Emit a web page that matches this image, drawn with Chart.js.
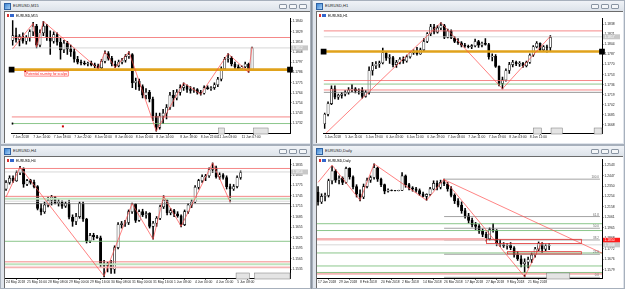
<!DOCTYPE html>
<html><head><meta charset="utf-8">
<script src="https://cdn.jsdelivr.net/npm/chart.js@4.4.0/dist/chart.umd.min.js"></script>
<style>
body{margin:0;width:625px;height:289px;overflow:hidden;background:#8a929c;position:relative;font-family:"Liberation Sans",Arial,sans-serif}
.win{position:absolute;background:#dfe4eb;box-sizing:border-box;border:1px solid #a7b0bc}
.tbar{position:absolute;left:0;top:0;right:0;height:10px;background:linear-gradient(#f0f3f7,#dde3ea)}
.ico{position:absolute;left:3px;top:2px;width:5px;height:5px;background:linear-gradient(135deg,#3d86d6,#a8d0f3);border:1px solid #2f62a3}
.ttl{position:absolute;left:12px;top:2px;font-size:4px;color:#222;line-height:6px;white-space:nowrap}
.btn{position:absolute;top:3px;width:8px;height:5px;box-sizing:border-box;border:1px solid #8a95a3;background:#f4f6f8;border-radius:1px}
.client{position:absolute;background:#fff;border-left:1px solid #6b6b6b;border-top:1px solid #6b6b6b;box-sizing:border-box}
canvas{position:absolute}
.hdr{position:absolute;font-size:3.4px;color:#000;white-space:nowrap;line-height:4px}
.flag{position:absolute;width:7px;height:3px;background:linear-gradient(90deg,#d33 0 33%,#fff 33% 50%,#36c 50%)}
</style>
</head><body>

<div class="win" style="left:0;top:0;width:311px;height:145px">
 <div class="tbar"><div class="ico"></div><div class="ttl">EURUSD,M15</div>
 <div class="btn" style="left:278px"></div><div class="btn" style="left:288px"></div><div class="btn" style="left:298px"></div></div>
 <div class="client" style="left:3px;top:10px;width:306px;height:132px"></div>
</div>
<div class="win" style="left:312px;top:0;width:313px;height:145px">
 <div class="tbar"><div class="ico"></div><div class="ttl">EURUSD,H1</div>
 <div class="btn" style="left:278px"></div><div class="btn" style="left:288px"></div><div class="btn" style="left:298px"></div></div>
 <div class="client" style="left:3px;top:10px;width:307px;height:132px"></div>
</div>
<div class="win" style="left:0;top:145px;width:311px;height:144px">
 <div class="tbar"><div class="ico"></div><div class="ttl">EURUSD,H4</div>
 <div class="btn" style="left:278px"></div><div class="btn" style="left:288px"></div><div class="btn" style="left:298px"></div></div>
 <div class="client" style="left:3px;top:10px;width:306px;height:132px"></div>
</div>
<div class="win" style="left:312px;top:145px;width:313px;height:144px">
 <div class="tbar"><div class="ico"></div><div class="ttl">EURUSD,Daily</div>
 <div class="btn" style="left:278px"></div><div class="btn" style="left:288px"></div><div class="btn" style="left:298px"></div></div>
 <div class="client" style="left:3px;top:10px;width:307px;height:132px"></div>
</div>

<canvas id="c0" width="305" height="131" style="left:5px;top:12px"></canvas>
<canvas id="c1" width="305" height="131" style="left:317px;top:12px"></canvas>
<canvas id="c2" width="305" height="131" style="left:5px;top:157px"></canvas>
<canvas id="c3" width="305" height="131" style="left:317px;top:157px"></canvas>

<div class="flag" style="left:7px;top:14px"></div><div class="hdr" style="left:16px;top:13.5px">EURUSD,M15</div>
<div class="flag" style="left:319px;top:14px"></div><div class="hdr" style="left:328px;top:13.5px">EURUSD,H1</div>
<div class="flag" style="left:7px;top:159px"></div><div class="hdr" style="left:16px;top:158.5px">EURUSD,H4</div>
<div class="flag" style="left:319px;top:159px"></div><div class="hdr" style="left:328px;top:158.5px">EURUSD,Daily</div>

<script>
// ---------------- DATA ----------------
// M15 candles [open, high, low, close]
const m15Candles = [
[1.1820,1.1841,1.1815,1.1825],[1.1825,1.1833,1.1818,1.1821],[1.1821,1.1826,1.1814,1.1824],[1.1824,1.1828,1.1817,1.1819],
[1.1819,1.1825,1.1816,1.1823],[1.1823,1.1831,1.1819,1.1829],[1.1829,1.1839,1.1825,1.1835],[1.1835,1.1837,1.1812,1.1815],
[1.1815,1.1831,1.1813,1.1828],[1.1828,1.1840,1.1825,1.1835],[1.1835,1.1837,1.1820,1.1823],[1.1823,1.1830,1.1805,1.1819],
[1.1819,1.1829,1.1817,1.1826],[1.1826,1.1828,1.1815,1.1818],[1.1818,1.1822,1.1800,1.1810],[1.1810,1.1820,1.1807,1.1817],
[1.1817,1.1819,1.1805,1.1811],[1.1811,1.1815,1.1803,1.1808],[1.1808,1.1811,1.1797,1.1800],[1.1800,1.1803,1.1795,1.1797],
[1.1797,1.1799,1.1794,1.1796],[1.1796,1.1798,1.1794,1.1795],[1.1795,1.1797,1.1793,1.1796],[1.1796,1.1798,1.1793,1.1794],
[1.1794,1.1796,1.1791,1.1793],[1.1793,1.1795,1.1789,1.1791],[1.1791,1.1800,1.1790,1.1798],[1.1798,1.1809,1.1796,1.1806],
[1.1806,1.1808,1.1799,1.1801],[1.1801,1.1803,1.1793,1.1795],[1.1795,1.1798,1.1791,1.1793],[1.1793,1.1799,1.1792,1.1797],
[1.1797,1.1801,1.1795,1.1799],[1.1799,1.1805,1.1797,1.1803],[1.1803,1.1808,1.1801,1.1805],[1.1805,1.1806,1.1770,1.1775],
[1.1775,1.1780,1.1768,1.1777],[1.1777,1.1779,1.1767,1.1771],[1.1771,1.1773,1.1759,1.1762],[1.1762,1.1769,1.1758,1.1765],
[1.1765,1.1767,1.1755,1.1758],[1.1758,1.1760,1.1735,1.1740],[1.1740,1.1743,1.1724,1.1728],[1.1728,1.1743,1.1726,1.1740],
[1.1740,1.1747,1.1732,1.1743],[1.1743,1.1752,1.1737,1.1749],[1.1749,1.1765,1.1747,1.1762],[1.1762,1.1767,1.1750,1.1759],
[1.1759,1.1768,1.1757,1.1765],[1.1765,1.1773,1.1762,1.1770],[1.1770,1.1775,1.1767,1.1772],[1.1772,1.1773,1.1765,1.1768],
[1.1768,1.1771,1.1764,1.1767],[1.1767,1.1770,1.1765,1.1768],[1.1768,1.1769,1.1763,1.1765],[1.1765,1.1767,1.1762,1.1764],
[1.1764,1.1772,1.1763,1.1770],[1.1770,1.1772,1.1768,1.1769],[1.1769,1.1771,1.1767,1.1770],[1.1770,1.1775,1.1768,1.1773],
[1.1773,1.1781,1.1771,1.1779],[1.1779,1.1792,1.1777,1.1790],[1.1790,1.1802,1.1788,1.1800],[1.1800,1.1806,1.1797,1.1801],
[1.1801,1.1803,1.1793,1.1795],[1.1795,1.1797,1.1790,1.1792],[1.1792,1.1794,1.1789,1.1790],[1.1790,1.1793,1.1789,1.1792],
[1.1792,1.1797,1.1791,1.1795],[1.1795,1.1796,1.1786,1.1789],[1.1789,1.1813,1.1788,1.1812]];
const m15YTicks = [1.1840,1.1829,1.1818,1.1808,1.1797,1.1786,1.1775,1.1764,1.1754,1.1743,1.1732];
const m15XLabels = ['7 Jun 2018','7 Jun 14:00','7 Jun 18:00','7 Jun 22:00','8 Jun 02:00','8 Jun 06:00','8 Jun 10:00','8 Jun 14:00','8 Jun 18:00','8 Jun 22:00','11 Jun 03:00','11 Jun 07:00'];
const m15XLabelAt = [0,6,12,18,24,30,36,42,49,55,60,67];
const m15Zigzag = [[0,1.1811],[6,1.1838],[7,1.1813],[9,1.1840],[25,1.1790],[27,1.1808],[30,1.1791],[34,1.1808],[42,1.1724],[50,1.1775],[55,1.1763],[63,1.1806],[69,1.1786],[70,1.1813]];
const m15Levels = [1.1823,1.1812,1.1789,1.1739,1.1732];
const m15Price = 1.1812;

// H1
const h1Candles = [
[1.1670,1.1688,1.1662,1.1686],[1.1686,1.1707,1.1683,1.1704],[1.1704,1.1734,1.1702,1.1729],[1.1729,1.1734,1.1712,1.1715],
[1.1715,1.1720,1.1711,1.1718],[1.1718,1.1723,1.1713,1.1720],[1.1720,1.1726,1.1717,1.1723],[1.1723,1.1731,1.1720,1.1727],
[1.1727,1.1736,1.1724,1.1729],[1.1729,1.1731,1.1722,1.1726],[1.1726,1.1729,1.1720,1.1727],[1.1727,1.1731,1.1713,1.1716],
[1.1716,1.1726,1.1715,1.1723],[1.1723,1.1766,1.1720,1.1760],[1.1760,1.1774,1.1752,1.1768],[1.1768,1.1775,1.1763,1.1771],
[1.1771,1.1776,1.1765,1.1773],[1.1773,1.1798,1.1771,1.1790],[1.1790,1.1792,1.1777,1.1781],[1.1781,1.1787,1.1772,1.1782],
[1.1782,1.1784,1.1766,1.1770],[1.1770,1.1777,1.1765,1.1774],[1.1774,1.1782,1.1771,1.1779],[1.1779,1.1783,1.1772,1.1776],
[1.1776,1.1786,1.1774,1.1783],[1.1783,1.1792,1.1781,1.1790],[1.1790,1.1795,1.1787,1.1792],[1.1792,1.1799,1.1786,1.1788],
[1.1788,1.1798,1.1787,1.1795],[1.1795,1.1814,1.1792,1.1809],[1.1809,1.1824,1.1807,1.1822],[1.1822,1.1838,1.1819,1.1834],
[1.1834,1.1838,1.1822,1.1825],[1.1825,1.1836,1.1823,1.1832],[1.1832,1.1841,1.1829,1.1836],[1.1836,1.1838,1.1814,1.1816],
[1.1816,1.1830,1.1815,1.1827],[1.1827,1.1829,1.1814,1.1815],[1.1815,1.1818,1.1807,1.1809],[1.1809,1.1814,1.1804,1.1807],
[1.1807,1.1809,1.1800,1.1803],[1.1803,1.1806,1.1799,1.1801],[1.1801,1.1803,1.1798,1.1800],[1.1800,1.1804,1.1797,1.1802],
[1.1802,1.1813,1.1800,1.1809],[1.1809,1.1811,1.1799,1.1803],[1.1803,1.1808,1.1800,1.1806],[1.1806,1.1814,1.1803,1.1804],
[1.1804,1.1806,1.1779,1.1783],[1.1783,1.1788,1.1776,1.1784],[1.1784,1.1787,1.1765,1.1767],[1.1767,1.1768,1.1734,1.1738],
[1.1738,1.1749,1.1729,1.1744],[1.1744,1.1763,1.1742,1.1760],[1.1760,1.1774,1.1755,1.1770],[1.1770,1.1777,1.1766,1.1774],
[1.1774,1.1776,1.1768,1.1771],[1.1771,1.1775,1.1767,1.1772],[1.1772,1.1774,1.1765,1.1768],[1.1768,1.1776,1.1766,1.1774],
[1.1774,1.1788,1.1772,1.1786],[1.1786,1.1802,1.1784,1.1800],[1.1800,1.1809,1.1798,1.1806],[1.1806,1.1807,1.1792,1.1795],
[1.1795,1.1802,1.1793,1.1800],[1.1800,1.1803,1.1791,1.1799],[1.1799,1.1819,1.1792,1.1816]];
const h1YTicks = [1.1838,1.1821,1.1804,1.1787,1.1770,1.1753,1.1736,1.1719,1.1702,1.1685,1.1668];
const h1XLabels = ['5 Jun 2018','5 Jun 11:00','5 Jun 19:00','6 Jun 03:00','6 Jun 11:00','6 Jun 19:00','7 Jun 03:00','7 Jun 11:00','7 Jun 19:00','8 Jun 03:00','8 Jun 11:00'];
const h1XLabelAt = [0,6,12,18,24,30,36,42,48,54,60];
const h1Zigzag = [[-0.3,1.1650],[34,1.1841],[52,1.1729],[66,1.1818]];
const h1Levels = [1.1827,1.1817,1.1792,1.1743,1.1737,1.1727,1.1723];
const h1Price = 1.1817;

// H4
const h4Candles = [
[1.1765,1.1789,1.1761,1.1784],[1.1784,1.1803,1.1779,1.1796],[1.1796,1.1803,1.1784,1.1789],[1.1789,1.1817,1.1787,1.1812],
[1.1812,1.1830,1.1806,1.1824],[1.1824,1.1826,1.1770,1.1779],[1.1779,1.1793,1.1775,1.1789],[1.1789,1.1793,1.1779,1.1784],
[1.1784,1.1791,1.1768,1.1772],[1.1772,1.1775,1.1705,1.1709],[1.1709,1.1723,1.1691,1.1700],[1.1700,1.1728,1.1695,1.1719],
[1.1719,1.1742,1.1714,1.1733],[1.1733,1.1747,1.1719,1.1742],[1.1742,1.1744,1.1722,1.1725],[1.1725,1.1735,1.1716,1.1728],
[1.1728,1.1731,1.1709,1.1716],[1.1716,1.1728,1.1712,1.1723],[1.1723,1.1733,1.1679,1.1684],[1.1684,1.1691,1.1658,1.1672],
[1.1672,1.1695,1.1663,1.1686],[1.1686,1.1728,1.1681,1.1723],[1.1723,1.1728,1.1672,1.1679],[1.1679,1.1681,1.1610,1.1616],
[1.1616,1.1638,1.1611,1.1632],[1.1632,1.1638,1.1619,1.1628],[1.1628,1.1632,1.1623,1.1625],[1.1625,1.1630,1.1541,1.1551],
[1.1551,1.1560,1.1513,1.1546],[1.1546,1.1555,1.1527,1.1551],[1.1551,1.1560,1.1523,1.1535],[1.1535,1.1602,1.1523,1.1597],
[1.1597,1.1669,1.1593,1.1663],[1.1663,1.1672,1.1653,1.1666],[1.1666,1.1675,1.1658,1.1669],[1.1669,1.1705,1.1663,1.1700],
[1.1700,1.1725,1.1695,1.1722],[1.1722,1.1723,1.1669,1.1675],[1.1675,1.1705,1.1672,1.1700],[1.1700,1.1707,1.1686,1.1691],
[1.1691,1.1700,1.1681,1.1695],[1.1695,1.1697,1.1653,1.1658],[1.1658,1.1672,1.1621,1.1667],[1.1667,1.1686,1.1658,1.1681],
[1.1681,1.1719,1.1677,1.1714],[1.1714,1.1746,1.1709,1.1733],[1.1733,1.1735,1.1691,1.1697],[1.1697,1.1709,1.1691,1.1703],
[1.1703,1.1707,1.1686,1.1694],[1.1694,1.1700,1.1684,1.1688],[1.1688,1.1691,1.1656,1.1663],[1.1663,1.1705,1.1660,1.1700],
[1.1700,1.1723,1.1695,1.1719],[1.1719,1.1735,1.1712,1.1728],[1.1728,1.1775,1.1725,1.1770],[1.1770,1.1793,1.1765,1.1789],
[1.1789,1.1806,1.1784,1.1800],[1.1800,1.1807,1.1789,1.1803],[1.1803,1.1826,1.1798,1.1821],[1.1821,1.1840,1.1812,1.1826],
[1.1826,1.1831,1.1796,1.1800],[1.1800,1.1812,1.1793,1.1806],[1.1806,1.1809,1.1793,1.1798],[1.1798,1.1803,1.1765,1.1772],
[1.1772,1.1779,1.1728,1.1765],[1.1765,1.1778,1.1761,1.1772],[1.1772,1.1803,1.1768,1.1798],[1.1798,1.1817,1.1793,1.1812]];
const h4YTicks = [1.1835,1.1805,1.1775,1.1745,1.1715,1.1685,1.1655,1.1625,1.1595,1.1565,1.1535];
const h4XLabels = ['24 May 2018','25 May 16:00','28 May 08:00','29 May 00:00','29 May 16:00','30 May 08:00','31 May 00:00','31 May 16:00','1 Jun 08:00','4 Jun 00:00','4 Jun 16:00','5 Jun 08:00'];
const h4XLabelAt = [0,6,12,18,24,30,36,42,48,54,60,66];
const h4Zigzag = [[0,1.1742],[4,1.1828],[28,1.1515],[36,1.1723],[42,1.1621],[45,1.1744],[50,1.1658],[59,1.1840],[64,1.1728]];
const h4Levels = [1.1824,1.1814,1.1744,1.1737,1.1730,1.1723,1.1615,1.1556,1.1549,1.1540];
const h4Price = 1.1814;

// Daily
const d1Candles = [
[1.2294,1.2345,1.2174,1.2204],[1.2204,1.2279,1.2189,1.2255],[1.2255,1.2285,1.2213,1.2264],[1.2264,1.2414,1.2249,1.2399],
[1.2399,1.2534,1.2369,1.2489],[1.2489,1.2504,1.2384,1.2405],[1.2405,1.2444,1.2369,1.2423],[1.2423,1.2435,1.2363,1.2384],
[1.2384,1.2525,1.2375,1.2513],[1.2513,1.2519,1.2414,1.2435],[1.2435,1.2444,1.2324,1.2345],[1.2345,1.2363,1.2249,1.2279],
[1.2279,1.2315,1.2213,1.2249],[1.2249,1.2369,1.2234,1.2345],[1.2345,1.2423,1.2333,1.2405],[1.2405,1.2444,1.2384,1.2429],
[1.2429,1.2555,1.2414,1.2519],[1.2519,1.2525,1.2393,1.2414],[1.2414,1.2423,1.2345,1.2363],[1.2363,1.2369,1.2279,1.2303],
[1.2303,1.2324,1.2294,1.2312],[1.2312,1.2315,1.2306,1.2309],[1.2309,1.2312,1.2306,1.2308],[1.2308,1.2312,1.2306,1.2311],
[1.2311,1.2474,1.2309,1.2444],[1.2444,1.2453,1.2339,1.2363],[1.2363,1.2375,1.2315,1.2333],[1.2333,1.2345,1.2303,1.2324],
[1.2324,1.2339,1.2294,1.2309],[1.2309,1.2324,1.2264,1.2279],[1.2279,1.2294,1.2249,1.2255],[1.2255,1.2279,1.2219,1.2273],
[1.2273,1.2339,1.2264,1.2324],[1.2324,1.2399,1.2315,1.2375],[1.2375,1.2399,1.2315,1.2339],[1.2339,1.2405,1.2324,1.2384],
[1.2384,1.2414,1.2354,1.2369],[1.2369,1.2384,1.2303,1.2324],[1.2324,1.2345,1.2249,1.2264],[1.2264,1.2279,1.2189,1.2213],
[1.2213,1.2234,1.2159,1.2174],[1.2174,1.2204,1.2099,1.2123],[1.2123,1.2144,1.2054,1.2075],[1.2075,1.2099,1.2009,1.2033],
[1.2033,1.2054,1.1973,1.1994],[1.1994,1.2015,1.1949,1.1979],[1.1979,1.1994,1.1913,1.1934],[1.1934,1.1955,1.1883,1.1904],
[1.1904,1.1925,1.1844,1.1865],[1.1865,1.1964,1.1853,1.1949],[1.1949,1.2003,1.1925,1.1943],[1.1943,1.1949,1.1799,1.1823],
[1.1823,1.1853,1.1793,1.1811],[1.1811,1.1829,1.1784,1.1799],[1.1799,1.1823,1.1769,1.1805],[1.1805,1.1829,1.1763,1.1781],
[1.1781,1.1793,1.1694,1.1715],[1.1715,1.1745,1.1664,1.1679],[1.1679,1.1709,1.1604,1.1634],[1.1634,1.1679,1.1511,1.1649],
[1.1649,1.1694,1.1595,1.1673],[1.1673,1.1733,1.1643,1.1715],[1.1715,1.1784,1.1694,1.1769],[1.1769,1.1835,1.1754,1.1823],
[1.1823,1.1829,1.1739,1.1769],[1.1769,1.1814,1.1754,1.1799],[1.1799,1.1823,1.1763,1.1805]];
const d1YTicks = [1.2543,1.2447,1.2350,1.2254,1.2158,1.2061,1.1965,1.1868,1.1772,1.1676,1.1579];
const d1XLabels = ['17 Jan 2018','29 Jan 2018','8 Feb 2018','20 Feb 2018','2 Mar 2018','14 Mar 2018','26 Mar 2018','17 Apr 2018','27 Apr 2018','9 May 2018','21 May 2018'];
const d1XLabelAt = [0,6,12,18,24,30,36,42,48,54,60];
const d1Zigzag = [[0,1.2384],[4,1.2543],[12,1.2219],[16,1.2555],[31,1.2219],[36,1.2414],[59,1.1514],[64,1.1835]];
const d1Levels = [1.2003,1.1940,1.1859,1.1808,1.1733,1.1613,1.1553,1.1541];
const d1Fib = [1.2414,1.2069,1.1961,1.1853,1.1721,1.1508];
const d1FibNames = ['100.0','61.8','50.0','38.2','23.6','0.0'];
const d1Trend = [[35.7,1.2414],[87.6,1.1634]];
const d1Boxes = [[48.1,75.2,1.1859,1.1820],[54.1,75.2,1.1745,1.1724]];
const d1Price = 1.1808;
const d1Tag = 1.1850;

// ---------------- STYLE / RENDER ----------------
const RED='#f36a6a', GRN='#6db86d', ORG='#e0a21b', LGR='#cdcdcd', DGR='#7d7d7d', PINK='#f6b3b3', LGN='#bfe3bf';
const FONT = {family:'Liberation Sans', size:3.3};

function extrasPlugin(P){
  return {id:'extras', afterDatasetsDraw(chart){
    const c = chart.ctx, xs = chart.scales.x, ys = chart.scales.y, a = chart.chartArea;
    c.save();
    c.beginPath(); c.rect(a.left,a.top,a.right-a.left,a.bottom-a.top); c.clip();
    (P.rects||[]).forEach(r=>{
      const x1=xs.getPixelForValue(r[0]), x2=xs.getPixelForValue(r[1]);
      const y1=ys.getPixelForValue(r[2]), y2=ys.getPixelForValue(r[3]);
      c.strokeStyle='#e03030'; c.lineWidth=0.8; c.strokeRect(x1,y1,x2-x1,y2-y1);
    });
    (P.fibNames||[]).forEach((t,k)=>{
      c.font='3px "Liberation Sans"'; c.fillStyle='#666'; c.textAlign='right'; c.textBaseline='bottom';
      c.fillText(t, xs.getPixelForValue(P.fibTo)-1, ys.getPixelForValue(P.fib[k])-0.3);
    });
    (P.notes||[]).forEach(n=>{
      const x=xs.getPixelForValue(n.x), y=ys.getPixelForValue(n.y);
      c.font='3.4px "Liberation Sans"'; const w=c.measureText(n.text).width;
      c.fillStyle='#fff'; c.fillRect(x,y,w+2,5);
      c.strokeStyle='#ff3030'; c.lineWidth=0.6; c.strokeRect(x,y,w+2,5);
      c.fillStyle='#ff2020'; c.textAlign='left'; c.textBaseline='middle'; c.fillText(n.text,x+1,y+2.6);
      c.fillStyle='#c00'; c.fillRect(x-0.5,y-0.5,1.5,1.5);
    });
    (P.dots||[]).forEach(d=>{
      c.fillStyle=d[2]; c.fillRect(xs.getPixelForValue(d[0])-1,ys.getPixelForValue(d[1])-1,2,2);
    });
    c.restore(); c.save();
    (P.gboxes||[]).forEach(b=>{
      const x1=xs.getPixelForValue(b[0]), x2=xs.getPixelForValue(b[1]);
      c.fillStyle='#e4e4e4'; c.fillRect(x1,a.bottom-5,x2-x1,6);
      c.strokeStyle='#777'; c.lineWidth=0.5; c.strokeRect(x1,a.bottom-5,x2-x1,6);
    });
    (P.tags||[]).forEach(t=>{
      const y=ys.getPixelForValue(t.v);
      c.fillStyle=t.bg; c.fillRect(a.right+1,y-2.5,17,5);
      c.fillStyle=t.fg; c.font='3.3px "Liberation Sans"'; c.textAlign='left'; c.textBaseline='middle';
      c.fillText(t.v.toFixed(4),a.right+2.5,y+0.2);
    });
    c.restore();
  }};
}

function panel(id, P){
  const wick = P.candles.map((k,i)=>({x:i,y:[k[2],k[1]]}));
  const body = P.candles.map((k,i)=>({x:i,y:[k[0], k[3]===k[0]? k[3]+0.00002 : k[3]]}));
  const fills = P.candles.map(k=> k[3]>=k[0] ? '#ffffff' : '#000000');
  const ds = [
    {type:'bar', data:wick, backgroundColor:'#000', barThickness:0.9, grouped:false, order:6},
    {type:'bar', data:body, backgroundColor:fills, borderColor:'#000', borderWidth:0.6, borderSkipped:false, barThickness:2.3, grouped:false, order:5}
  ];
  P.levels.forEach((v,k)=>{
    const s = P.levelStyle[k];
    const ends = s.marks ? 2.2 : 0;
    ds.push({type:'line', data:[{x:s.from!==undefined?s.from:P.xMin,y:v},{x:s.to!==undefined?s.to:P.xMax,y:v}],
      borderColor:s.c, borderWidth:s.w, pointRadius:ends, pointStyle:'rect', pointBackgroundColor:'#000', pointBorderColor:'#000',
      order:3, clip: s.marks?false:undefined});
  });
  (P.lines||[]).forEach(L=>{
    ds.push({type:'line', data:L.pts.map(p=>({x:p[0],y:p[1]})), borderColor:L.c, borderWidth:L.w, pointRadius:0, order:2});
  });
  ds.push({type:'line', data:P.zig.map(p=>({x:p[0],y:p[1]})), borderColor:'#ff4a4a', borderWidth:0.7, pointRadius:0, order:1});
  new Chart(document.getElementById(id), {
    type:'bar',
    data:{datasets:ds},
    options:{
      responsive:false, animation:false, events:[], devicePixelRatio:1,
      layout:{padding:0},
      plugins:{legend:{display:false}, tooltip:{enabled:false}},
      scales:{
        x:{type:'linear', min:P.xMin, max:P.xMax, offset:false,
          grid:{drawOnChartArea:false, drawTicks:true, tickLength:2, color:'#000', lineWidth:0.6},
          border:{display:true, color:'#000', width:1},
          ticks:{autoSkip:false, maxRotation:0, minRotation:0, align:'start', padding:0, color:'#222', font:FONT,
            callback:(v,i)=>P.xLabels[i]},
          afterBuildTicks:ax=>{ax.ticks=P.xAt.map(v=>({value:v}));},
          afterFit:ax=>{ax.height=10;}
        },
        y:{type:'linear', position:'right', min:P.yMin, max:P.yMax,
          grid:{drawOnChartArea:false, drawTicks:true, tickLength:1.5, color:'#000', lineWidth:0.6},
          border:{display:true, color:'#000', width:1},
          ticks:{padding:1, color:'#222', font:FONT, callback:v=>v.toFixed(4)},
          afterBuildTicks:ax=>{ax.ticks=P.yTicks.map(v=>({value:v}));},
          afterFit:ax=>{ax.width=20;}
        }
      }
    },
    plugins:[extrasPlugin(P)]
  });
}

const XMIN=-0.3, XMAX=81.1;

panel('c0',{candles:m15Candles, yTicks:m15YTicks, xLabels:m15XLabels, xAt:m15XLabelAt, zig:m15Zigzag,
  levels:m15Levels, levelStyle:[{c:RED,w:0.8},{c:LGR,w:0.8},{c:ORG,w:2.6,marks:true},{c:RED,w:0.8},{c:GRN,w:0.8}],
  xMin:XMIN, xMax:XMAX, yMin:1.1722, yMax:1.1843,
  notes:[{x:3.6,y:1.17875,text:'Potential re-entry for scalps'}],
  dots:[[14.7,1.1729,'#c00'],[-0.1,1.1732,'#000']],
  gboxes:[[60.2,61.9],[70.5,74.7]],
  tags:[{v:m15Price,bg:'#c8c8c8',fg:'#fff'}]});

panel('c1',{candles:h1Candles, yTicks:h1YTicks, xLabels:h1XLabels, xAt:h1XLabelAt, zig:h1Zigzag,
  levels:h1Levels, levelStyle:[{c:RED,w:0.8},{c:LGR,w:0.8},{c:ORG,w:2.6,marks:true},{c:RED,w:0.8},{c:GRN,w:0.8},{c:RED,w:0.8},{c:DGR,w:0.8}],
  xMin:XMIN, xMax:XMAX, yMin:1.16542, yMax:1.18478,
  gboxes:[[61,63.4],[66.2,69.5],[78.8,81.1]],
  tags:[{v:h1Price,bg:'#c8c8c8',fg:'#fff'}]});

panel('c2',{candles:h4Candles, yTicks:h4YTicks, xLabels:h4XLabels, xAt:h4XLabelAt, zig:h4Zigzag,
  levels:h4Levels, levelStyle:[{c:RED,w:0.8},{c:LGR,w:0.8},{c:RED,w:0.8},{c:LGN,w:2},{c:LGR,w:0.8},{c:DGR,w:0.8},{c:GRN,w:0.8},{c:RED,w:0.8},{c:LGN,w:2},{c:PINK,w:1.6}],
  xMin:XMIN, xMax:XMAX, yMin:1.15096, yMax:1.18484,
  gboxes:[[65.7,69.5],[71,81.1]],
  tags:[{v:h4Price,bg:'#c8c8c8',fg:'#fff'}]});

panel('c3',{candles:d1Candles, yTicks:d1YTicks, xLabels:d1XLabels, xAt:d1XLabelAt, zig:d1Zigzag,
  levels:[...d1Levels, ...d1Fib],
  levelStyle:[{c:GRN,w:0.8},{c:GRN,w:0.8},{c:PINK,w:2.4,to:48.1},{c:LGR,w:0.8},{c:GRN,w:0.8},{c:GRN,w:0.8},{c:GRN,w:0.8},{c:PINK,w:2},
    {c:DGR,w:0.7,from:36,to:80.5},{c:DGR,w:0.7,from:36,to:80.5},{c:DGR,w:0.7,from:36,to:80.5},{c:DGR,w:0.7,from:36,to:80.5},{c:DGR,w:0.7,from:36,to:80.5},{c:DGR,w:0.7,from:36,to:80.5}],
  lines:[{pts:d1Trend, c:'#ff5050', w:0.7}],
  fib:d1Fib, fibNames:d1FibNames, fibTo:80.5,
  rects:d1Boxes,
  xMin:XMIN, xMax:XMAX, yMin:1.1502, yMax:1.2591,
  gboxes:[[65.3,71.9]],
  tags:[{v:d1Tag,bg:'#ff1c1c',fg:'#fff'},{v:d1Price,bg:'#c8c8c8',fg:'#fff'}]});
</script>
</body></html>
